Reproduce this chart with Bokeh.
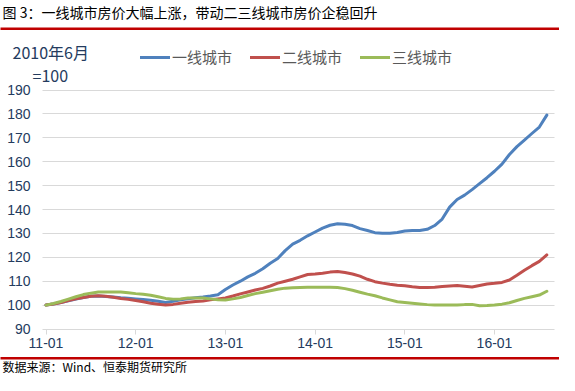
from bokeh.plotting import figure
from bokeh.models import Label, BoxAnnotation, FixedTicker, Range1d
from bokeh.embed import file_html
from bokeh.resources import INLINE

# ---- data (2010-06 = 100), monthly from 2011-01 ----
months = list(range(68))
tier1 = [100.0, 100.5, 101.1, 101.8, 102.5, 103.2, 103.7, 103.8, 103.6, 103.4, 103.1, 102.9,
         102.6, 102.3, 102.0, 101.6, 101.1, 101.6, 102.2, 102.7, 103.1, 103.4, 103.8, 104.3,
         106.5, 108.4, 110.0, 111.8, 113.3, 115.2, 117.5, 119.5, 122.8, 125.5, 127.1, 129.0,
         130.6, 132.2, 133.4, 134.0, 133.8, 133.3, 132.0, 131.2, 130.3, 130.1, 130.1, 130.4,
         131.0, 131.2, 131.2, 131.7, 133.3, 136.0, 141.0, 144.2, 146.0, 148.3, 150.8, 153.3,
         156.0, 159.0, 163.0, 166.3, 169.0, 171.8, 174.5, 179.5]
tier2 = [100.0, 100.5, 101.1, 101.9, 102.6, 103.2, 103.7, 103.9, 103.7, 103.3, 102.8, 102.4,
         101.9, 101.4, 100.8, 100.4, 100.0, 100.3, 100.8, 101.2, 101.5, 101.7, 102.2, 102.6,
         103.0, 103.8, 104.7, 105.5, 106.3, 107.0, 108.0, 109.2, 110.0, 110.8, 111.8, 112.8,
         113.0, 113.3, 113.8, 114.1, 113.6, 113.0, 112.1, 110.8, 109.8, 109.2, 108.7, 108.3,
         108.1, 107.7, 107.4, 107.4, 107.5, 107.8, 108.0, 108.2, 107.9, 107.6, 108.2, 108.8,
         109.1, 109.5, 110.5, 112.5, 114.6, 116.5, 118.3, 121.0]
tier3 = [100.0, 100.7, 101.5, 102.5, 103.5, 104.4, 105.0, 105.5, 105.5, 105.5, 105.5, 105.2,
         104.8, 104.5, 104.1, 103.5, 102.8, 102.5, 102.6, 103.0, 103.0, 103.0, 102.6, 102.2,
         102.1, 102.6, 103.2, 104.0, 104.8, 105.4, 106.0, 106.6, 107.1, 107.3, 107.4, 107.5,
         107.5, 107.5, 107.5, 107.4, 106.9, 106.2, 105.4, 104.6, 103.9, 103.0, 102.2, 101.4,
         101.1, 100.8, 100.5, 100.2, 100.0, 100.0, 100.0, 100.0, 100.2, 100.3, 99.7, 99.8,
         100.0, 100.4, 101.0, 101.9, 102.8, 103.5, 104.2, 105.8]
series_names = ["一线城市", "二线城市", "三线城市"]
x_tick_pos = [0, 12, 24, 36, 48, 60]
x_tick_labels = ["11-01", "12-01", "13-01", "14-01", "15-01", "16-01"]
y_ticks = [90, 100, 110, 120, 130, 140, 150, 160, 170, 180, 190]
title_text = "图 3：一线城市房价大幅上涨，带动二三线城市房价企稳回升"
unit_text1 = "2010年6月"
unit_text2 = "=100"
source_text = "数据来源：Wind、恒泰期货研究所"

# ---- layout (pixels inside the 559x375 canvas) ----
W, H = 559, 375
X_AT_0, KX = 45.5, 7.475      # pixel of first month, pixels per month
Y_BASE, KY = 328.5, 2.39      # pixel of value 90, pixels per unit
PL, PR = 42, 554              # plot-area left/right edges

def px_x(X):
    return (X - X_AT_0) / KX

def px_y(Y):
    return 90 + (Y_BASE - Y) / KY

p = figure(width=W, height=H, output_backend="svg", toolbar_location=None,
           x_range=Range1d(px_x(0), px_x(W)), y_range=Range1d(px_y(H), px_y(0)),
           title=None, min_border=0, min_border_left=0, min_border_right=0,
           min_border_top=0, min_border_bottom=0)
p.outline_line_color = None
p.background_fill_color = "white"
p.border_fill_color = "white"

tick_color = "#243B5E"
p.xaxis.fixed_location = 90
p.xaxis.bounds = (px_x(PL), px_x(PR))
p.xaxis.ticker = FixedTicker(ticks=x_tick_pos)
p.xaxis.major_label_overrides = dict(zip(x_tick_pos, x_tick_labels))
p.xaxis.axis_line_color = "#D9D9D9"
p.xaxis.major_tick_line_color = "#D9D9D9"
p.xaxis.major_tick_out = 5
p.xaxis.major_tick_in = 0
p.xaxis.minor_tick_line_color = None
p.xaxis.major_label_standoff = 4
p.xaxis.major_label_text_font = "Liberation Sans"
p.xaxis.major_label_text_font_size = "14px"
p.xaxis.major_label_text_color = tick_color

p.yaxis.fixed_location = px_x(PL)
p.yaxis.ticker = FixedTicker(ticks=y_ticks)
p.yaxis.axis_line_color = None
p.yaxis.major_tick_line_color = None
p.yaxis.minor_tick_line_color = None
p.yaxis.major_tick_out = 0
p.yaxis.major_tick_in = 0
p.yaxis.major_label_standoff = 12
p.yaxis.major_label_text_font = "Liberation Sans"
p.yaxis.major_label_text_font_size = "14px"
p.yaxis.major_label_text_color = tick_color

p.xgrid.grid_line_color = None
p.ygrid.ticker = FixedTicker(ticks=y_ticks[1:])
p.ygrid.grid_line_color = "#D9D9D9"
p.ygrid.grid_line_width = 1

# white margins so that grid lines only span the plot area
p.add_layout(BoxAnnotation(left=px_x(-20), right=px_x(PL), bottom=px_y(H + 20), top=px_y(-20),
                           fill_color="white", fill_alpha=1, line_color=None, level="underlay"))
p.add_layout(BoxAnnotation(left=px_x(PR), right=px_x(W + 20), bottom=px_y(H + 20), top=px_y(-20),
                           fill_color="white", fill_alpha=1, line_color=None, level="underlay"))

colors = ["#4F81BD", "#C0504D", "#9BBB59"]
for vals, name, c in zip([tier1, tier2, tier3], series_names, colors):
    p.line(months, vals, line_color=c, line_width=3, line_join="round",
           line_cap="round", legend_label=name)

lg = p.legend[0]
lg.orientation = "horizontal"
lg.location = (140, H - 57 - 10)
lg.glyph_width = 30
lg.glyph_height = 20
lg.label_height = 20
lg.label_standoff = 2
lg.spacing = 18
lg.padding = 0
lg.margin = 0
lg.border_line_color = None
lg.background_fill_alpha = 0
lg.label_text_font = "Noto Sans CJK SC"
lg.label_text_font_size = "15px"
lg.label_text_color = "#595959"

p.add_layout(Label(x=px_x(2), y=px_y(11), text=title_text, text_font="Noto Sans CJK SC",
                   text_font_size="14px", text_color="#000000", text_baseline="middle"))
p.add_layout(BoxAnnotation(left=px_x(-5), right=px_x(W + 5), top=px_y(27), bottom=px_y(29.5),
                           fill_color="#C00000", fill_alpha=1, line_color=None, level="overlay"))
p.add_layout(Label(x=px_x(12), y=px_y(51), text=unit_text1, text_font="Noto Sans CJK SC",
                   text_font_size="16px", text_color=tick_color, text_baseline="middle"))
p.add_layout(Label(x=px_x(32), y=px_y(74), text=unit_text2, text_font="Noto Sans CJK SC",
                   text_font_size="16px", text_color=tick_color, text_baseline="middle"))
p.add_layout(BoxAnnotation(left=px_x(-5), right=px_x(W + 5), top=px_y(356.5), bottom=px_y(359),
                           fill_color="#C00000", fill_alpha=1, line_color=None, level="overlay"))
p.add_layout(Label(x=px_x(2), y=px_y(365.5), text=source_text, text_font="Noto Sans CJK SC",
                   text_font_size="12px", text_color="#000000", text_baseline="middle"))

open("out.html", "w").write(file_html(p, INLINE))
